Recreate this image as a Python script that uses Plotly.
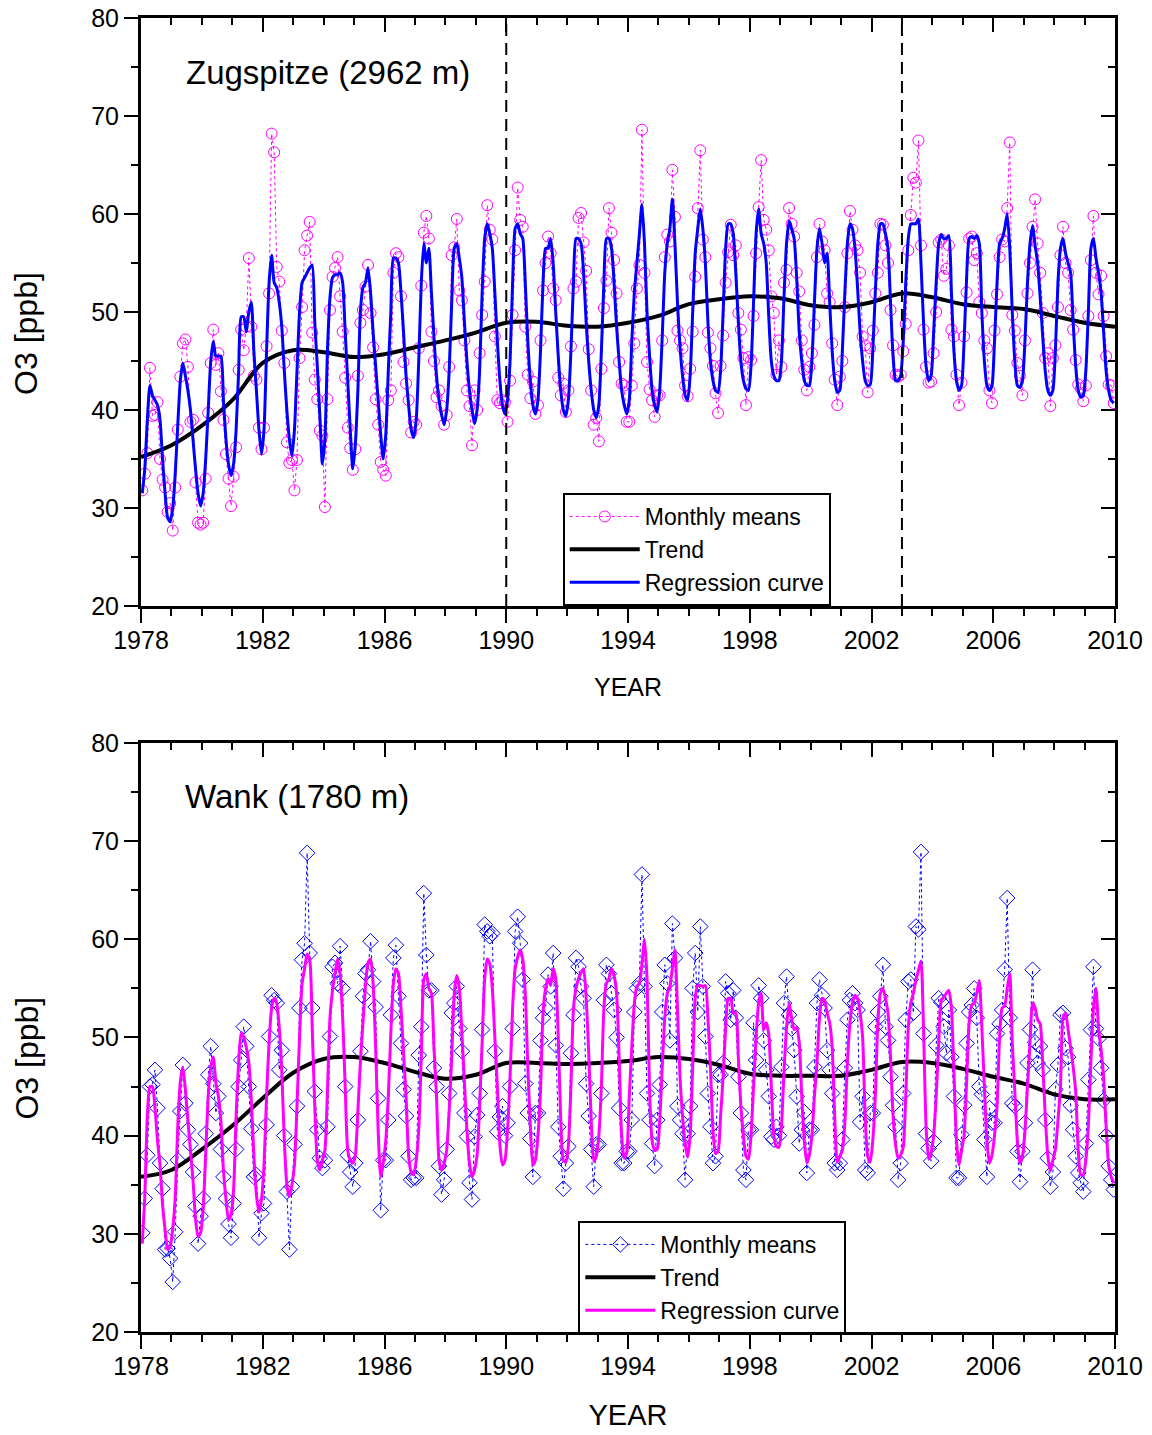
import plotly.graph_objects as go

years = list(range(1978, 2010))
trend_years = list(range(1978, 2011))
event_years = [1990, 2003]

# Zugspitze monthly means (Jan..Dec per row)
zug_means = [
    31.8, 33.5, 35.6, 44.3, 39.4, 39.5, 40.8, 35.0, 32.9, 32.1, 29.6, 30.5,
    27.7, 32.1, 38.0, 43.4, 46.8, 47.2, 44.4, 38.8, 39.0, 32.6, 28.5, 28.3,
    28.5, 33.0, 39.7, 44.8, 48.2, 44.6, 45.8, 41.9, 39.0, 35.5, 33.0, 30.2,
    33.2, 36.2, 44.1, 48.2, 46.1, 48.5, 55.5, 48.5, 43.5, 43.1, 38.2, 36.0,
    38.2, 46.5, 51.9, 68.2, 66.3, 54.6, 53.1, 48.1, 44.8, 36.7, 34.6, 34.9,
    31.8, 34.9, 45.3, 50.5, 56.3, 57.8, 59.2, 47.9, 43.1, 41.1, 37.9, 37.4,
    30.1, 41.1, 50.2, 53.6, 54.5, 55.6, 51.6, 48.0, 43.3, 38.2, 36.1, 33.9,
    36.0, 43.5, 48.9, 50.2, 52.6, 54.8, 49.9, 46.4, 41.1, 38.5, 34.7, 33.9,
    33.3, 41.0, 42.0, 54.0, 56.0, 55.6, 51.6, 44.9, 42.7, 41.0, 37.7, 38.8,
    38.5, 46.3, 52.7, 58.1, 59.8, 57.5, 48.0, 45.0, 41.3, 42.0, 40.4, 38.5,
    39.5, 44.4, 55.8, 56.6, 59.5, 52.2, 51.2, 47.1, 42.0, 40.4, 36.4, 42.0,
    40.0, 45.8, 49.7, 53.1, 60.9, 58.4, 57.4, 47.5, 41.0, 40.7, 41.0, 40.8,
    38.8, 43.0, 49.7, 56.3, 62.7, 59.4, 58.7, 48.5, 43.6, 41.2, 42.9, 39.6,
    40.5, 47.1, 52.2, 55.0, 57.7, 56.0, 52.4, 51.2, 43.3, 41.5, 42.7, 39.8,
    42.0, 46.5, 52.4, 53.1, 59.6, 60.1, 57.1, 54.2, 46.2, 42.0, 38.5, 39.2,
    36.8, 44.2, 50.4, 53.2, 60.6, 58.1, 55.3, 51.9, 44.9, 42.7, 42.5, 38.8,
    38.8, 42.5, 46.8, 52.4, 54.8, 68.6, 54.0, 44.9, 42.1, 41.0, 39.3, 41.5,
    41.5, 47.1, 55.6, 57.9, 57.2, 64.5, 59.7, 48.1, 47.1, 46.3, 42.5, 41.4,
    44.2, 48.0, 53.6, 60.6, 66.5, 57.4, 55.6, 47.9, 46.3, 44.5, 41.7, 39.7,
    44.5, 47.6, 53.0, 56.1, 58.9, 55.8, 56.8, 49.9, 48.2, 45.3, 40.5, 45.4,
    45.1, 49.6, 56.0, 60.7, 65.5, 59.4, 58.4, 56.3, 51.6, 49.9, 43.6, 47.1,
    44.4, 53.0, 54.3, 60.6, 59.0, 57.7, 54.0, 52.1, 47.1, 44.1, 42.0, 44.4,
    45.8, 48.7, 55.6, 59.0, 57.2, 56.3, 51.9, 51.0, 46.8, 43.1, 40.5, 43.4,
    45.0, 50.5, 56.0, 60.3, 58.4, 56.8, 56.3, 54.0, 47.5, 46.6, 41.8, 46.3,
    48.1, 51.9, 54.0, 59.0, 58.9, 56.8, 55.0, 50.2, 46.6, 43.6, 43.4, 43.6,
    46.0, 48.8, 56.3, 59.9, 63.7, 63.2, 67.5, 56.8, 48.2, 44.4, 42.8, 42.9,
    45.8, 50.0, 57.1, 57.4, 53.7, 54.4, 56.8, 48.2, 47.5, 43.6, 40.5, 42.8,
    47.5, 52.0, 57.5, 57.7, 55.3, 56.0, 51.0, 49.9, 47.1, 46.3, 42.0, 40.7,
    48.1, 51.8, 55.6, 57.4, 57.2, 60.6, 67.3, 49.7, 48.1, 44.8, 43.5, 41.5,
    47.1, 51.9, 55.0, 58.7, 61.5, 57.0, 54.0, 49.9, 45.3, 45.8, 40.4, 45.3,
    46.6, 50.5, 55.8, 58.7, 55.0, 54.0, 50.2, 48.2, 45.1, 42.6, 42.2, 40.9,
    42.5, 49.6, 55.3, 59.8, 54.0, 51.8, 53.7, 49.6, 45.5, 42.6, 42.5, 40.7,
]

# Zugspitze regression curve (monthly)
zug_reg = [
    31.5, 34.0, 39.0, 42.5, 41.5, 41.0, 40.5, 39.0, 35.0, 31.5, 29.0, 28.6,
    30.0, 33.5, 38.5, 43.0, 44.8, 43.5, 42.0, 40.0, 37.0, 34.0, 31.5, 30.2,
    31.5, 35.0, 40.0, 45.0, 47.0, 45.5, 45.5, 45.5, 41.0, 37.0, 34.5, 33.3,
    34.5, 38.0, 44.0, 49.5, 49.5, 48.0, 50.0, 51.0, 46.0, 42.0, 38.0, 35.5,
    38.0, 46.0, 53.0, 55.8, 53.0, 52.5, 51.0, 48.5, 44.0, 40.0, 37.0, 35.3,
    38.0, 44.0, 50.0, 53.0, 53.5, 54.0, 54.5, 54.8, 49.0, 44.5, 39.5, 34.5,
    37.0, 46.0, 51.5, 53.5, 53.8, 53.8, 54.0, 53.0, 48.0, 43.0, 38.0, 34.0,
    36.5, 42.0, 50.0, 52.5, 53.0, 54.5, 52.0, 48.0, 44.5, 41.0, 37.5, 35.0,
    37.5, 44.0, 50.0, 55.5, 55.5, 55.0, 52.0, 48.0, 43.5, 40.5, 38.0, 37.2,
    39.0, 45.0, 53.0, 57.0, 55.0, 56.5, 52.0, 47.5, 43.5, 41.0, 39.5, 38.5,
    40.0, 44.0, 51.0, 56.5, 57.0, 55.5, 53.5, 49.0, 45.0, 42.0, 40.0, 38.6,
    40.0, 44.0, 52.0, 57.5, 59.0, 58.0, 56.5, 52.0, 47.0, 43.0, 40.5, 39.6,
    41.0, 45.0, 53.0, 58.5, 59.0, 58.0, 57.5, 53.0, 47.0, 43.0, 40.5, 39.6,
    41.0, 46.0, 53.0, 56.5, 56.5, 57.5, 55.0, 50.0, 45.5, 42.0, 40.0, 39.4,
    41.0, 46.0, 53.0, 57.5, 57.5, 57.0, 54.0, 49.0, 45.0, 42.0, 40.0, 39.2,
    40.5, 46.0, 53.0, 57.5, 57.5, 56.5, 53.0, 48.5, 45.0, 42.0, 40.5, 39.6,
    41.0, 47.0, 52.0, 55.0, 58.0, 61.0, 57.0, 50.0, 45.5, 42.0, 40.5, 39.8,
    42.0, 47.5, 54.0, 57.0, 58.5, 61.5, 57.0, 51.0, 46.5, 43.5, 41.5, 41.0,
    43.5, 50.0, 56.0, 58.5, 60.5, 58.5, 55.0, 49.0, 45.0, 43.0, 42.0, 41.8,
    44.0, 50.0, 56.5, 59.0, 59.0, 58.0, 54.0, 49.0, 45.0, 43.0, 42.2, 42.0,
    44.5, 51.0, 58.0, 60.5, 58.0, 57.0, 55.0, 49.5, 45.0, 43.5, 43.0, 43.0,
    45.0, 51.5, 57.0, 59.3, 58.5, 57.5, 53.5, 48.0, 45.0, 43.0, 42.5, 42.5,
    45.0, 51.0, 56.5, 58.5, 57.0, 55.0, 56.0, 51.0, 46.0, 43.0, 41.8, 42.0,
    46.0, 52.0, 57.0, 59.0, 58.5, 56.5, 52.5, 48.0, 45.0, 43.0, 42.5, 42.6,
    46.0, 52.0, 57.0, 59.0, 59.0, 58.0, 56.5, 51.0, 45.5, 43.0, 43.0, 43.5,
    47.0, 53.0, 57.5, 59.0, 59.0, 59.0, 59.5, 55.0, 49.0, 44.5, 43.0, 43.5,
    48.0, 53.0, 57.0, 57.9, 57.5, 57.5, 57.8, 52.0, 46.0, 43.0, 42.0, 42.5,
    47.0, 53.5, 57.5, 57.7, 57.5, 57.8, 57.0, 50.0, 45.0, 42.5, 42.0, 42.5,
    47.0, 53.0, 57.0, 57.5, 58.5, 60.0, 56.5, 50.0, 45.0, 42.5, 42.3, 43.0,
    47.0, 53.0, 57.0, 58.8, 56.8, 55.0, 51.5, 47.5, 44.0, 42.0, 41.5, 42.0,
    46.0, 53.0, 56.5, 57.5, 56.0, 55.0, 54.0, 49.0, 44.5, 42.0, 41.3, 41.5,
    44.0, 50.0, 56.5, 57.5, 55.5, 54.0, 52.0, 48.0, 44.0, 42.0, 41.0, 40.7,
]

# Zugspitze trend (yearly, 1978..2010)
zug_trend = [35.2, 36.4, 38.4, 41.0, 44.8, 46.1, 45.9, 45.4, 45.7, 46.4, 47.1,
             47.9, 48.9, 49.0, 48.6, 48.5, 48.9, 49.6, 50.8, 51.3, 51.6, 51.4,
             50.7, 50.5, 51.0, 51.9, 51.5, 50.8, 50.5, 50.3, 49.6, 48.9, 48.5]

# Wank monthly means
wank_means = [
    30.1, 33.6, 38.0, 45.0, 45.2, 46.7, 42.8, 37.2, 34.6, 28.4, 28.5, 27.5,
    25.1, 30.2, 37.5, 42.5, 47.2, 43.3, 40.6, 39.1, 36.3, 32.8, 29.0, 31.8,
    33.6, 40.2, 46.2, 49.1, 45.3, 42.3, 44.0, 38.6, 35.8, 33.6, 31.0, 29.6,
    33.1, 38.6, 45.0, 47.7, 51.1, 49.1, 45.0, 40.7, 35.8, 36.0, 29.6, 32.1,
    33.1, 41.1, 50.1, 54.3, 53.8, 53.5, 46.7, 48.7, 40.0, 34.3, 28.4, 34.8,
    39.1, 43.0, 53.0, 57.9, 59.6, 68.8, 58.6, 53.0, 44.5, 40.6, 37.7, 36.7,
    37.5, 40.9, 50.1, 57.2, 57.6, 55.5, 59.3, 55.0, 45.0, 38.0, 36.3, 34.8,
    37.2, 41.6, 48.6, 54.2, 56.5, 56.9, 59.8, 55.7, 53.1, 43.8, 32.4, 37.5,
    37.5, 41.6, 52.3, 58.1, 59.4, 54.2, 49.4, 44.7, 42.0, 37.9, 35.5, 35.7,
    35.7, 48.2, 51.1, 64.7, 58.4, 54.8, 54.8, 46.9, 45.0, 36.9, 34.0, 35.5,
    38.6, 44.3, 52.5, 53.5, 55.2, 50.9, 48.6, 42.3, 39.9, 35.2, 33.5, 39.9,
    42.1, 44.3, 50.8, 61.5, 60.8, 60.3, 60.6, 48.6, 40.4, 41.9, 43.0, 40.0,
    41.3, 45.0, 50.9, 60.8, 62.3, 59.6, 55.9, 45.3, 42.3, 39.7, 35.8, 42.3,
    42.3, 49.7, 52.0, 53.0, 56.4, 55.2, 58.6, 49.2, 40.9, 37.9, 34.6, 37.2,
    38.9, 48.4, 52.3, 58.1, 57.2, 55.2, 54.0, 45.3, 42.0, 38.6, 34.8, 39.1,
    39.1, 44.3, 53.8, 57.4, 56.5, 54.5, 52.8, 50.0, 42.8, 37.2, 37.2, 38.4,
    38.4, 41.6, 52.6, 55.0, 55.5, 66.6, 55.2, 44.3, 41.6, 39.2, 36.9, 41.6,
    45.2, 52.6, 57.4, 55.5, 49.7, 61.6, 58.1, 43.0, 41.6, 40.2, 35.5, 40.2,
    43.0, 55.0, 58.6, 52.6, 61.3, 55.2, 50.1, 44.3, 40.9, 37.2, 37.9, 46.2,
    46.2, 47.4, 55.7, 54.5, 51.8, 54.8, 52.0, 46.0, 42.3, 36.5, 35.5, 40.6,
    40.6, 51.5, 47.7, 55.3, 54.0, 49.7, 46.7, 44.0, 39.9, 39.6, 40.9, 40.0,
    47.0, 53.5, 56.2, 52.3, 50.9, 48.7, 44.0, 39.2, 40.6, 42.4, 36.2, 40.6,
    40.6, 47.0, 53.5, 55.9, 54.3, 53.0, 48.7, 46.7, 44.3, 37.2, 36.5, 37.2,
    39.6, 46.9, 51.8, 53.8, 54.5, 53.5, 52.8, 41.4, 44.0, 36.5, 36.2, 42.3,
    42.3, 51.1, 52.6, 54.2, 57.4, 51.1, 49.7, 46.0, 43.1, 40.9, 35.5, 37.2,
    44.3, 51.8, 55.7, 55.9, 52.5, 61.3, 61.0, 68.9, 50.4, 40.2, 38.7, 37.4,
    39.4, 49.2, 54.0, 53.6, 51.1, 48.4, 52.8, 48.0, 44.0, 35.7, 35.7, 40.1,
    43.1, 49.4, 52.6, 53.3, 55.0, 52.0, 45.0, 44.2, 39.6, 35.8, 42.8, 41.3,
    41.3, 50.4, 51.4, 52.8, 56.9, 64.2, 52.0, 43.3, 43.0, 38.4, 35.3, 38.4,
    41.3, 47.4, 50.8, 56.9, 49.5, 47.4, 49.1, 46.7, 41.6, 37.7, 34.8, 36.3,
    44.7, 47.2, 52.3, 52.5, 48.9, 48.0, 43.1, 40.6, 37.9, 36.2, 35.2, 34.3,
    39.2, 45.7, 50.8, 57.2, 50.9, 49.9, 46.9, 43.6, 40.0, 36.9, 35.5, 34.5,
]

# Wank regression curve (monthly)
wank_reg = [
    29.0, 33.8, 42.0, 45.0, 45.0, 42.9, 39.5, 37.0, 33.0, 30.4, 28.4, 28.7,
    30.5, 33.8, 41.0, 45.5, 47.0, 44.7, 41.5, 38.5, 35.5, 31.5, 29.7, 30.1,
    32.5, 38.0, 44.0, 47.0, 48.0, 45.4, 44.0, 41.5, 36.5, 33.5, 31.4, 32.0,
    34.5, 42.0, 47.5, 50.5, 50.0, 49.0, 47.5, 43.5, 38.0, 34.0, 32.2, 33.5,
    37.0, 44.0, 49.5, 53.0, 54.0, 53.5, 51.0, 46.5, 39.5, 35.0, 33.8, 35.0,
    37.0, 43.0, 50.0, 55.5, 57.0, 58.5, 58.0, 51.0, 43.0, 37.5, 36.5, 37.5,
    38.5, 44.5, 52.0, 54.8, 56.5, 58.0, 56.5, 52.0, 45.0, 38.5, 37.5, 37.2,
    38.0, 42.5, 47.5, 51.5, 55.2, 57.6, 58.0, 55.5, 49.0, 40.5, 35.8, 37.2,
    39.5, 44.0, 50.5, 55.5, 57.0, 56.5, 53.0, 48.5, 44.0, 38.0, 36.3, 36.0,
    37.5, 40.6, 48.0, 55.9, 56.5, 55.0, 54.5, 49.0, 44.0, 37.5, 36.5, 37.2,
    38.5, 42.5, 48.0, 54.5, 56.3, 55.0, 50.5, 45.5, 40.5, 37.2, 35.8, 36.5,
    38.0, 43.0, 49.5, 56.0, 58.0, 57.5, 55.0, 50.0, 45.0, 39.0, 37.0, 37.5,
    40.5, 46.0, 53.0, 57.0, 58.2, 58.9, 58.0, 54.5, 47.0, 41.0, 37.0, 37.5,
    40.0, 44.5, 52.5, 55.0, 56.0, 55.3, 57.0, 56.0, 50.0, 41.5, 37.5, 37.3,
    39.0, 45.0, 53.0, 55.0, 56.0, 56.6, 57.0, 54.0, 48.5, 41.5, 37.4, 37.9,
    40.0, 45.0, 53.0, 55.5, 56.0, 57.0, 56.3, 54.5, 48.0, 40.0, 37.7, 38.3,
    44.0, 49.0, 53.5, 55.2, 55.5, 57.5, 60.0, 56.0, 44.5, 39.5, 38.5, 38.6,
    41.5, 47.0, 52.0, 54.5, 55.2, 57.0, 58.9, 53.0, 46.0, 42.0, 39.2, 37.8,
    40.0, 47.0, 54.0, 55.3, 55.3, 55.2, 55.3, 52.0, 47.0, 40.6, 38.2, 38.4,
    42.0, 46.0, 51.0, 54.0, 54.0, 52.5, 52.5, 48.0, 43.0, 40.0, 37.9, 37.6,
    40.0, 45.0, 50.0, 53.5, 54.5, 50.8, 51.5, 50.3, 45.0, 40.0, 38.9, 38.8,
    41.0, 46.5, 51.0, 53.5, 52.0, 50.8, 51.0, 49.5, 44.0, 39.5, 37.2, 38.0,
    40.0, 44.0, 47.4, 52.0, 54.0, 53.8, 52.5, 51.5, 49.0, 42.0, 37.3, 37.9,
    38.5, 41.3, 47.4, 51.5, 53.5, 54.3, 54.0, 52.5, 50.0, 42.0, 37.9, 37.3,
    39.5, 44.0, 51.5, 54.5, 55.0, 54.0, 52.5, 48.0, 42.0, 39.0, 37.7, 38.0,
    38.8, 44.0, 51.0, 53.5, 54.5, 55.8, 56.8, 57.8, 51.0, 41.0, 37.6, 38.3,
    40.0, 44.0, 49.5, 53.8, 54.1, 54.5, 54.8, 53.0, 46.5, 39.5, 37.0, 38.5,
    40.0, 45.5, 51.5, 53.3, 53.5, 54.5, 55.8, 51.0, 45.0, 39.5, 37.2, 38.0,
    40.0, 43.0, 50.0, 53.0, 53.2, 55.0, 56.5, 49.5, 44.5, 39.5, 37.2, 37.8,
    40.5, 45.0, 49.5, 53.5, 53.0, 51.8, 51.4, 47.4, 42.0, 38.0, 36.4, 37.5,
    38.6, 41.5, 45.0, 52.0, 52.5, 50.8, 49.0, 47.0, 44.5, 38.5, 36.0, 36.0,
    37.5, 41.0, 47.5, 53.0, 55.0, 51.0, 48.8, 46.0, 41.0, 37.0, 35.8, 35.2,
]

# Wank trend (yearly, 1978..2010)
wank_trend = [35.8, 36.5, 38.6, 41.0, 43.8, 46.4, 47.8, 48.0, 47.4, 46.5, 45.8,
              46.2, 47.4, 47.4, 47.3, 47.4, 47.6, 48.0, 47.8, 47.2, 46.3, 46.1,
              46.1, 46.1, 46.7, 47.5, 47.4, 46.8, 46.0, 45.3, 44.2, 43.7, 43.7]

month_t = [y + (m - 0.5) / 12.0 for y in years for m in range(1, 13)]

MAG = "#FF00FF"
BLU = "#0000FF"
FONT = "Liberation Sans, Arial, sans-serif"

fig = go.Figure()

# ---- top panel ----
fig.add_trace(go.Scatter(x=month_t, y=zug_means, mode="lines+markers", name="Monthly means",
                         line=dict(color=MAG, width=1, dash="dot"),
                         marker=dict(symbol="circle-open", size=11, color=MAG, line=dict(width=1, color=MAG)),
                         xaxis="x", yaxis="y", legend="legend"))
fig.add_trace(go.Scatter(x=trend_years, y=zug_trend, mode="lines", name="Trend",
                         line=dict(color="black", width=4, shape="spline", smoothing=1.0),
                         xaxis="x", yaxis="y", legend="legend"))
fig.add_trace(go.Scatter(x=month_t, y=zug_reg, mode="lines", name="Regression curve",
                         line=dict(color=BLU, width=3, shape="spline", smoothing=0.6),
                         xaxis="x", yaxis="y", legend="legend"))

# ---- bottom panel ----
fig.add_trace(go.Scatter(x=month_t, y=wank_means, mode="lines+markers", name="Monthly means",
                         line=dict(color=BLU, width=1, dash="dot"),
                         marker=dict(symbol="diamond-open", size=12, color=BLU, line=dict(width=1, color=BLU)),
                         xaxis="x2", yaxis="y2", legend="legend2"))
fig.add_trace(go.Scatter(x=trend_years, y=wank_trend, mode="lines", name="Trend",
                         line=dict(color="black", width=4, shape="spline", smoothing=1.0),
                         xaxis="x2", yaxis="y2", legend="legend2"))
fig.add_trace(go.Scatter(x=month_t, y=wank_reg, mode="lines", name="Regression curve",
                         line=dict(color=MAG, width=3, shape="spline", smoothing=0.6),
                         xaxis="x2", yaxis="y2", legend="legend2"))

# empty traces to activate mirror-tick axes
fig.add_trace(go.Scatter(x=[], y=[], xaxis="x3", yaxis="y3", showlegend=False, hoverinfo="skip"))
fig.add_trace(go.Scatter(x=[], y=[], xaxis="x4", yaxis="y4", showlegend=False, hoverinfo="skip"))

tickfont = dict(family=FONT, size=25, color="black")

def xax(**kw):
    d = dict(range=[1978, 2010], tick0=1978, dtick=4, ticks="outside", ticklen=14, tickwidth=2,
             tickcolor="black",
             minor=dict(tick0=1978, dtick=1, ticks="outside", ticklen=7, tickwidth=2, tickcolor="black"),
             showline=True, linewidth=3, linecolor="black", mirror=True, showgrid=False,
             zeroline=False, tickfont=tickfont, ticklabelstandoff=-4, automargin=False,
             ticklabeloverflow="allow")
    d.update(kw)
    return d

def yax(**kw):
    d = dict(range=[20, 80], tick0=20, dtick=10, ticks="outside", ticklen=14, tickwidth=2,
             tickcolor="black",
             minor=dict(tick0=20, dtick=5, ticks="outside", ticklen=7, tickwidth=2, tickcolor="black"),
             showline=True, linewidth=3, linecolor="black", mirror=True, showgrid=False,
             zeroline=False, tickfont=tickfont, ticklabelstandoff=0, automargin=False,
             ticklabeloverflow="allow")
    d.update(kw)
    return d

def xmirror(over, anchor):
    return dict(overlaying=over, anchor=anchor, side="top", range=[1978, 2010], tick0=1978, dtick=4,
                ticks="inside", ticklen=14, tickwidth=2, tickcolor="black",
                minor=dict(tick0=1978, dtick=1, ticks="inside", ticklen=7, tickwidth=2, tickcolor="black"),
                showticklabels=False, showline=False, showgrid=False, zeroline=False, automargin=False)

def ymirror(over, anchor):
    return dict(overlaying=over, anchor=anchor, side="right", range=[20, 80], tick0=20, dtick=10,
                ticks="inside", ticklen=14, tickwidth=2, tickcolor="black",
                minor=dict(tick0=20, dtick=5, ticks="inside", ticklen=7, tickwidth=2, tickcolor="black"),
                showticklabels=False, showline=False, showgrid=False, zeroline=False, automargin=False)

top_dom = [0.5525, 1.0]
bot_dom = [0.0, 0.4483]

legend_style = dict(bordercolor="black", borderwidth=2, bgcolor="white",
                    font=dict(family=FONT, size=23, color="black"),
                    xanchor="left", yanchor="top", tracegroupgap=0, itemwidth=70)

fig.update_layout(
    width=1152, height=1435,
    margin=dict(l=141, r=37, t=18, b=103, autoexpand=False),
    paper_bgcolor="white", plot_bgcolor="white",
    font=dict(family=FONT, color="black"),
    xaxis=xax(anchor="y", title=dict(text="YEAR", font=dict(family=FONT, size=25), standoff=26)),
    yaxis=yax(anchor="x", domain=top_dom),
    xaxis2=xax(anchor="y2", title=dict(text="YEAR", font=dict(family=FONT, size=29), standoff=26)),
    yaxis2=yax(anchor="x2", domain=bot_dom),
    xaxis3=xmirror("x", "y"),
    yaxis3=ymirror("y", "x"),
    xaxis4=xmirror("x2", "y2"),
    yaxis4=ymirror("y2", "x2"),
    legend=dict(x=0.433, y=0.6385, **legend_style),
    legend2=dict(x=0.449, y=0.0845, **legend_style),
    showlegend=True,
)
fig.layout.yaxis3.domain = top_dom
fig.layout.yaxis4.domain = bot_dom

# y-axis titles (rotated text, slightly below the panel centre as in the original)
for ytitle_pos in (0.760, 0.2085):
    fig.add_annotation(text="O3 [ppb]", xref="paper", yref="paper", x=-0.1175, y=ytitle_pos,
                       xanchor="center", yanchor="middle", textangle=-90, showarrow=False,
                       font=dict(family=FONT, size=32, color="black"))

fig.add_annotation(text="Zugspitze (2962 m)", xref="paper", yref="paper", x=0.044, y=0.9589,
                   xanchor="left", yanchor="middle", showarrow=False,
                   font=dict(family=FONT, size=33, color="black"))
fig.add_annotation(text="Wank (1780 m)", xref="paper", yref="paper", x=0.043, y=0.4072,
                   xanchor="left", yanchor="middle", showarrow=False,
                   font=dict(family=FONT, size=33, color="black"))

for yr in event_years:
    fig.add_shape(type="line", xref="x", yref="y domain", x0=yr, x1=yr, y0=0, y1=1,
                  line=dict(color="black", width=2, dash="12px,7px"))

fig.write_html("out.html", config={"displayModeBar": False},
               post_script="document.body.style.margin='0';document.body.style.overflow='hidden';")
